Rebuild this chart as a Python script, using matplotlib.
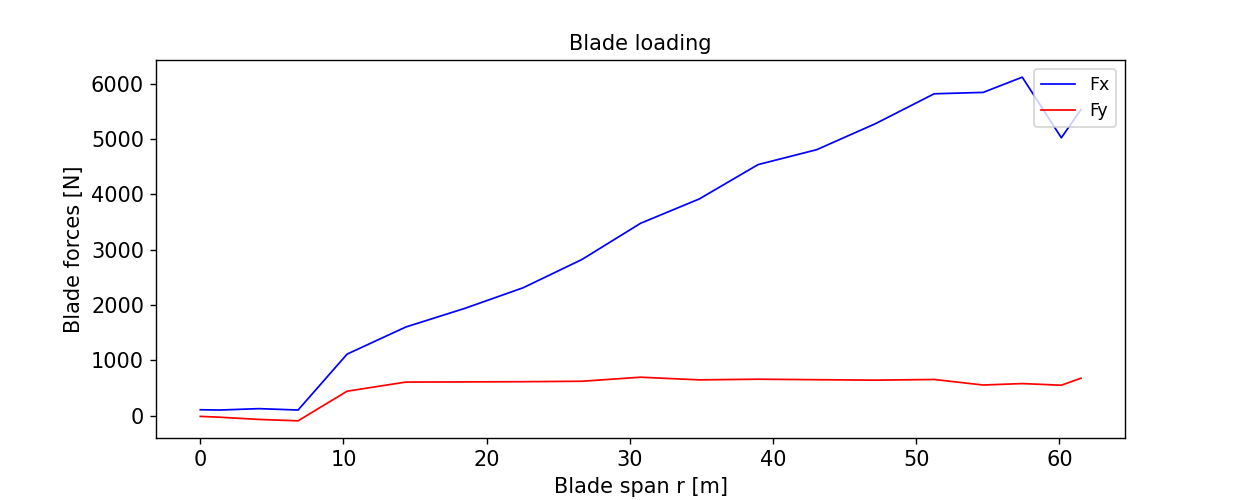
import matplotlib
matplotlib.use("Agg")
import matplotlib.pyplot as plt

# blade span positions [m] and sectional forces [N]
r = [0.0, 1.37, 4.1, 6.83, 10.25, 14.35, 18.45, 22.55, 26.65, 30.75,
     34.85, 38.95, 43.05, 47.15, 51.25, 54.67, 57.4, 60.13, 61.5]
fx = [105, 100, 125, 100, 1110, 1600, 1935, 2310, 2820, 3475,
      3915, 4535, 4805, 5275, 5815, 5840, 6115, 5020, 5530]
fy = [-15, -30, -70, -95, 440, 605, 608, 612, 620, 693,
      645, 657, 648, 640, 652, 552, 578, 548, 675]


def main():
    fig, ax = plt.subplots(figsize=(10, 4), dpi=125)
    fig.subplots_adjust(left=0.125, right=0.9, top=0.88, bottom=0.124)
    ax.plot(r, fx, color="blue", lw=1, label="Fx")
    ax.plot(r, fy, color="red", lw=1, label="Fy")
    ax.set_title("Blade loading", fontsize=12)
    ax.set_xlabel("Blade span r [m]", fontsize=12)
    ax.set_ylabel("Blade forces [N]", fontsize=12)
    ax.tick_params(labelsize=12)
    ax.legend(loc="upper right", fontsize=10)
    fig.savefig("out.png", dpi=125)


if __name__ == "__main__":
    main()
